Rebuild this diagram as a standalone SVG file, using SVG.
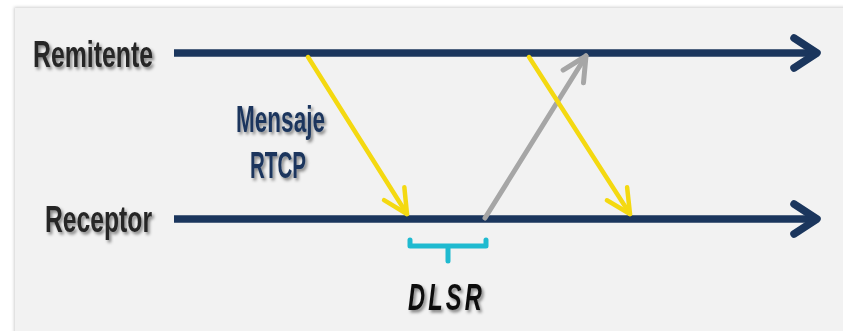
<svg xmlns="http://www.w3.org/2000/svg" width="843" height="331" viewBox="0 0 843 331">
  <style>
    .lbl { font-family: "Liberation Sans", Arial, sans-serif; font-size: 37px; font-weight: bold; }
    .dark { fill: #262626; }
    .navyt { fill: #1b365d; }
    .tl { stroke: #1b365d; stroke-width: 7.5; fill: none; }
    .msg { stroke: #f4d911; stroke-width: 4.5; fill: none; stroke-linecap: round; }
    .rep { stroke: #a6a6a6; stroke-width: 5; fill: none; stroke-linecap: round; }
  </style>
  <defs>
    <filter id="sh" x="-10%" y="-20%" width="130%" height="150%">
      <feDropShadow dx="2" dy="2.5" stdDeviation="1.5" flood-color="#000" flood-opacity="0.45"/>
    </filter>
    <filter id="panelsh" x="-5%" y="-5%" width="110%" height="110%">
      <feDropShadow dx="-1" dy="-1" stdDeviation="1.5" flood-color="#000" flood-opacity="0.18"/>
    </filter>
    <marker id="hNavy" markerUnits="userSpaceOnUse" viewBox="-32 -22 40 44" markerWidth="40" markerHeight="44" refX="0" refY="0" orient="auto" overflow="visible">
      <path d="M-23,-15 L0,0 L-23,15" fill="none" stroke="#1b365d" stroke-width="7.5" stroke-linecap="round" stroke-linejoin="round"/>
    </marker>
    <marker id="hYel" markerUnits="userSpaceOnUse" viewBox="-32 -22 40 44" markerWidth="40" markerHeight="44" refX="0" refY="0" orient="auto" overflow="visible">
      <path d="M-24,-12 L0,0 L-24,12" fill="none" stroke="#f4d911" stroke-width="4.5" stroke-linecap="round" stroke-linejoin="round"/>
    </marker>
    <marker id="hGray" markerUnits="userSpaceOnUse" viewBox="-32 -22 40 44" markerWidth="40" markerHeight="44" refX="0" refY="0" orient="auto" overflow="visible">
      <path d="M-24,-12 L0,0 L-24,12" fill="none" stroke="#a6a6a6" stroke-width="5" stroke-linecap="round" stroke-linejoin="round"/>
    </marker>
  </defs>

  <rect x="0" y="0" width="843" height="331" fill="#ffffff"/>
  <rect x="15" y="8" width="840" height="330" fill="#f2f2f2" filter="url(#panelsh)"/>

  <g id="remitente">
    <line class="tl" x1="174" y1="53" x2="817" y2="53" marker-end="url(#hNavy)"/>
    <text class="lbl dark" x="33" y="67" textLength="120" lengthAdjust="spacingAndGlyphs" filter="url(#sh)">Remitente</text>
  </g>

  <g id="receptor">
    <line class="tl" x1="174" y1="219" x2="817" y2="219" marker-end="url(#hNavy)"/>
    <text class="lbl dark" x="45" y="232" textLength="107" lengthAdjust="spacingAndGlyphs" filter="url(#sh)">Receptor</text>
  </g>

  <g id="mensaje-label">
    <text class="lbl navyt" x="236" y="132" textLength="89" lengthAdjust="spacingAndGlyphs" filter="url(#sh)">Mensaje</text>
    <text class="lbl navyt" x="250" y="178" textLength="56" lengthAdjust="spacingAndGlyphs" filter="url(#sh)">RTCP</text>
  </g>

  <g id="dlsr">
    <path d="M410,240 L410,246 L486,246 L486,240 M448,246 L448,261" fill="none" stroke="#1fbad0" stroke-width="5" stroke-linecap="round" stroke-linejoin="round"/>
    <text class="lbl" x="408" y="310" fill="#111" font-style="italic" letter-spacing="5" textLength="77" lengthAdjust="spacingAndGlyphs" filter="url(#sh)">DLSR</text>
  </g>

  <g id="connectors">
    <line class="msg" x1="308" y1="57" x2="407" y2="214" marker-end="url(#hYel)"/>
    <line class="rep" x1="485" y1="218" x2="586" y2="56" marker-end="url(#hGray)"/>
    <line class="msg" x1="529" y1="57" x2="630" y2="214" marker-end="url(#hYel)"/>
  </g>
</svg>
